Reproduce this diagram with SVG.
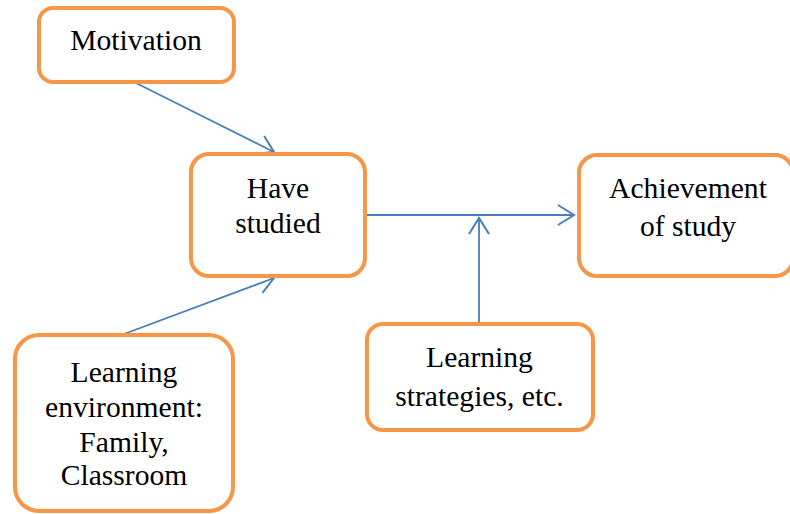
<svg xmlns="http://www.w3.org/2000/svg" width="790" height="514" viewBox="0 0 790 514">
<defs>
<style>
.box{fill:#ffffff;stroke:#F79646;stroke-width:4}
.lbl{font-family:"Liberation Serif","Times New Roman",serif;font-size:29.6px;fill:#000;text-anchor:middle}
.con{stroke:#4A7EBB;stroke-width:1.8;fill:none}
</style>
<marker id="ah" markerUnits="userSpaceOnUse" markerWidth="24" markerHeight="24" viewBox="-20 -12 24 24" refX="0" refY="0" orient="auto">
<path d="M-16,-10 L0,0 L-16,10" fill="none" stroke="#4A7EBB" stroke-width="2"/>
</marker>
</defs>
<rect width="790" height="514" fill="#ffffff"/>
<g id="connectors">
<line class="con" x1="136" y1="83" x2="274" y2="152" marker-end="url(#ah)"/>
<line class="con" x1="124" y1="334" x2="274" y2="278" marker-end="url(#ah)"/>
<line class="con" x1="367" y1="215" x2="574" y2="215" marker-end="url(#ah)"/>
<line class="con" x1="479" y1="322" x2="479" y2="218" marker-end="url(#ah)"/>
</g>
<g id="motivation">
<rect class="box" x="39" y="8" width="195" height="74" rx="14"/>
<text class="lbl" x="136" y="50">Motivation</text>
</g>
<g id="have-studied">
<rect class="box" x="191" y="154" width="174" height="122" rx="18"/>
<text class="lbl" x="278" y="198">Have</text>
<text class="lbl" x="278" y="232.5">studied</text>
</g>
<g id="achievement">
<rect class="box" x="579" y="155" width="214" height="121" rx="18"/>
<text class="lbl" x="688" y="197.5">Achievement</text>
<text class="lbl" x="688" y="235.5">of study</text>
</g>
<g id="learning-strategies">
<rect class="box" x="367" y="324" width="226" height="106" rx="16"/>
<text class="lbl" x="479.5" y="367">Learning</text>
<text class="lbl" x="479.5" y="406">strategies, etc.</text>
</g>
<g id="learning-environment">
<rect class="box" x="15" y="335" width="218" height="176" rx="24"/>
<text class="lbl" x="124" y="382">Learning</text>
<text class="lbl" x="124" y="417">environment:</text>
<text class="lbl" x="124" y="452">Family,</text>
<text class="lbl" x="124" y="485">Classroom</text>
</g>
</svg>
